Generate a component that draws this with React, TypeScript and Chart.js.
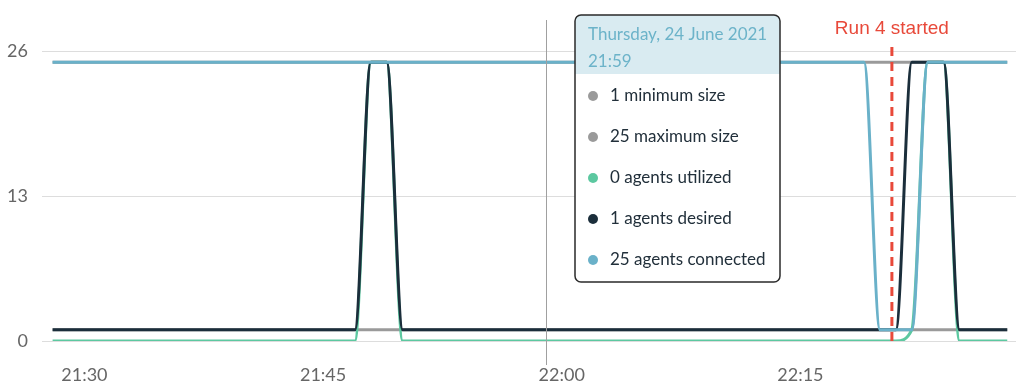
import React, { useEffect, useRef } from "react";
import { Chart, registerables } from "chart.js";

Chart.register(...registerables);

const TIMES = [
  "21:28", "21:29", "21:30", "21:31", "21:32", "21:33", "21:34", "21:35", "21:36", "21:37",
  "21:38", "21:39", "21:40", "21:41", "21:42", "21:43", "21:44", "21:45", "21:46", "21:47",
  "21:48", "21:49", "21:50", "21:51", "21:52", "21:53", "21:54", "21:55", "21:56", "21:57",
  "21:58", "21:59", "22:00", "22:01", "22:02", "22:03", "22:04", "22:05", "22:06", "22:07",
  "22:08", "22:09", "22:10", "22:11", "22:12", "22:13", "22:14", "22:15", "22:16", "22:17",
  "22:18", "22:19", "22:20", "22:21", "22:22", "22:23", "22:24", "22:25", "22:26", "22:27",
  "22:28",
];

const MINIMUM_SIZE = [
  1, 1, 1, 1, 1, 1, 1, 1, 1, 1,
  1, 1, 1, 1, 1, 1, 1, 1, 1, 1,
  1, 1, 1, 1, 1, 1, 1, 1, 1, 1,
  1, 1, 1, 1, 1, 1, 1, 1, 1, 1,
  1, 1, 1, 1, 1, 1, 1, 1, 1, 1,
  1, 1, 1, 1, 1, 1, 1, 1, 1, 1,
  1,
];

const MAXIMUM_SIZE = [
  25, 25, 25, 25, 25, 25, 25, 25, 25, 25,
  25, 25, 25, 25, 25, 25, 25, 25, 25, 25,
  25, 25, 25, 25, 25, 25, 25, 25, 25, 25,
  25, 25, 25, 25, 25, 25, 25, 25, 25, 25,
  25, 25, 25, 25, 25, 25, 25, 25, 25, 25,
  25, 25, 25, 25, 25, 25, 25, 25, 25, 25,
  25,
];

const AGENTS_UTILIZED = [
  0, 0, 0, 0, 0, 0, 0, 0, 0, 0,
  0, 0, 0, 0, 0, 0, 0, 0, 0, 0,
  25, 25, 0, 0, 0, 0, 0, 0, 0, 0,
  0, 0, 0, 0, 0, 0, 0, 0, 0, 0,
  0, 0, 0, 0, 0, 0, 0, 0, 0, 0,
  0, 0, 0, 0, 1, 25, 25, 0, 0, 0,
  0,
];

const AGENTS_DESIRED = [
  1, 1, 1, 1, 1, 1, 1, 1, 1, 1,
  1, 1, 1, 1, 1, 1, 1, 1, 1, 1,
  25, 25, 1, 1, 1, 1, 1, 1, 1, 1,
  1, 1, 1, 1, 1, 1, 1, 1, 1, 1,
  1, 1, 1, 1, 1, 1, 1, 1, 1, 1,
  1, 1, 1, 1, 25, 25, 25, 1, 1, 1,
  1,
];

const AGENTS_CONNECTED = [
  25, 25, 25, 25, 25, 25, 25, 25, 25, 25,
  25, 25, 25, 25, 25, 25, 25, 25, 25, 25,
  25, 25, 25, 25, 25, 25, 25, 25, 25, 25,
  25, 25, 25, 25, 25, 25, 25, 25, 25, 25,
  25, 25, 25, 25, 25, 25, 25, 25, 25, 25,
  25, 25, 1, 1, 1, 25, 25, 25, 25, 25,
  25,
];

const SERIES_LABELS = ["minimum size", "maximum size", "agents utilized", "agents desired", "agents connected"];
const X_TICK_LABELS = ["21:30", "21:45", "22:00", "22:15"];
const Y_TICKS = [0, 13, 26];
const X_RANGE = ["21:27:20", "22:28:33"];
const HOVER_TIME = "21:59";
const HOVER_DATE = "Thursday, 24 June 2021";
const RUN_MARKER_TIME = "22:20:45";
const RUN_MARKER_LABEL = "Run 4 started";

const BASE = 21 * 60 + 30;
function toMin(t: string): number {
  const p = t.split(":").map(Number);
  return p[0] * 60 + p[1] + (p[2] || 0) / 60 - BASE;
}
function fmt(v: number): string {
  const total = Math.round(v + BASE);
  const h = Math.floor(total / 60);
  const m = total % 60;
  return `${h}:${m < 10 ? "0" : ""}${m}`;
}

const COLORS = ["#9a9a9a", "#9a9a9a", "#5cc8a0", "#1b2e3b", "#6ab1c9"];
const ORDERS = [4, 3, 2, 1, 0];
const SERIES = [MINIMUM_SIZE, MAXIMUM_SIZE, AGENTS_UTILIZED, AGENTS_DESIRED, AGENTS_CONNECTED];

function roundRect(ctx: CanvasRenderingContext2D, x: number, y: number, w: number, h: number, r: number) {
  ctx.beginPath();
  ctx.moveTo(x + r, y);
  ctx.lineTo(x + w - r, y);
  ctx.arcTo(x + w, y, x + w, y + r, r);
  ctx.lineTo(x + w, y + h - r);
  ctx.arcTo(x + w, y + h, x + w - r, y + h, r);
  ctx.lineTo(x + r, y + h);
  ctx.arcTo(x, y + h, x, y + h - r, r);
  ctx.lineTo(x, y + r);
  ctx.arcTo(x, y, x + r, y, r);
  ctx.closePath();
}

const overlayPlugin = {
  id: "overlay",
  afterDraw(chart: any) {
    const ctx: CanvasRenderingContext2D = chart.ctx;
    const xs = chart.scales.x;
    const area = chart.chartArea;
    ctx.save();

    // crosshair
    const cx = Math.round(xs.getPixelForValue(toMin(HOVER_TIME))) + 0.5;
    ctx.strokeStyle = "#a0a0a0";
    ctx.lineWidth = 1;
    ctx.beginPath();
    ctx.moveTo(cx, 20);
    ctx.lineTo(cx, area.bottom + 24);
    ctx.stroke();

    // run marker
    const rx = xs.getPixelForValue(toMin(RUN_MARKER_TIME));
    ctx.strokeStyle = "#e8493a";
    ctx.lineWidth = 3;
    ctx.setLineDash([9, 6]);
    ctx.beginPath();
    ctx.moveTo(rx, area.top - 4);
    ctx.lineTo(rx, area.bottom);
    ctx.stroke();
    ctx.setLineDash([]);
    ctx.fillStyle = "#e8493a";
    ctx.font = "19px 'Liberation Sans', Arial, sans-serif";
    ctx.textAlign = "center";
    ctx.textBaseline = "middle";
    ctx.fillText(RUN_MARKER_LABEL, rx, 29);

    // tooltip
    const idx = TIMES.indexOf(HOVER_TIME);
    const bx = cx + 28.5;
    const by = 15;
    const bw = 205;
    const bh = 267;
    const headerH = 59;
    roundRect(ctx, bx, by, bw, bh, 6);
    ctx.fillStyle = "#ffffff";
    ctx.fill();
    ctx.save();
    roundRect(ctx, bx, by, bw, bh, 6);
    ctx.clip();
    ctx.fillStyle = "#d9ebf1";
    ctx.fillRect(bx, by, bw, headerH);
    ctx.restore();
    roundRect(ctx, bx, by, bw, bh, 6);
    ctx.strokeStyle = "#2a2a2a";
    ctx.lineWidth = 1.5;
    ctx.stroke();

    ctx.textAlign = "left";
    ctx.textBaseline = "middle";
    ctx.font = "17px Lato, sans-serif";
    ctx.fillStyle = "#6cb3c9";
    ctx.fillText(HOVER_DATE, bx + 13, by + 20);
    ctx.fillText(HOVER_TIME, bx + 13, by + 47);

    SERIES.forEach((s, i) => {
      const y = by + 81 + i * 41;
      ctx.fillStyle = COLORS[i];
      ctx.beginPath();
      ctx.arc(bx + 18, y, 5, 0, Math.PI * 2);
      ctx.fill();
      ctx.fillStyle = "#22303b";
      ctx.font = "17px Lato, sans-serif";
      ctx.fillText(`${s[idx]} ${SERIES_LABELS[i]}`, bx + 35, y);
    });

    ctx.restore();
  },
};

export default function App() {
  const ref = useRef<HTMLCanvasElement>(null);
  useEffect(() => {
    document.body.style.margin = "0";
    const chart = new Chart(ref.current as HTMLCanvasElement, {
      type: "line",
      data: {
        datasets: SERIES.map((s, i) => ({
          label: SERIES_LABELS[i],
          data: s.map((v, j) => ({ x: toMin(TIMES[j]), y: v })),
          borderColor: COLORS[i],
          backgroundColor: COLORS[i],
          borderWidth: 3,
          pointRadius: 0,
          cubicInterpolationMode: "monotone" as const,
          fill: false,
          order: ORDERS[i],
        })),
      },
      options: {
        responsive: false,
        animation: false,
        layout: { padding: { top: 51, right: 8, left: 0, bottom: 0 } },
        plugins: { legend: { display: false }, tooltip: { enabled: false } },
        scales: {
          x: {
            type: "linear",
            min: toMin(X_RANGE[0]),
            max: toMin(X_RANGE[1]),
            grid: { display: false, drawTicks: false },
            border: { display: false },
            afterBuildTicks: (scale: any) => {
              scale.ticks = X_TICK_LABELS.map((t) => ({ value: toMin(t) }));
            },
            afterFit: (scale: any) => {
              scale.height = 50;
            },
            ticks: {
              callback: (v: any) => fmt(Number(v)),
              color: "#666666",
              font: { family: "Lato", size: 18 },
              padding: 23,
              maxRotation: 0,
              autoSkip: false,
            },
          },
          y: {
            min: 0,
            max: 26,
            grid: { color: "#dddddd", drawTicks: false, lineWidth: 1 },
            border: { display: false },
            afterBuildTicks: (scale: any) => {
              scale.ticks = Y_TICKS.map((v) => ({ value: v }));
            },
            afterFit: (scale: any) => {
              scale.width = 42;
            },
            ticks: {
              color: "#666666",
              font: { family: "Lato", size: 18 },
              padding: 14,
            },
          },
        },
      },
      plugins: [overlayPlugin],
    } as any);
    return () => chart.destroy();
  }, []);
  return (
    <div style={{ width: 1024, height: 391 }}>
      <canvas ref={ref} width={1024} height={391} />
    </div>
  );
}
